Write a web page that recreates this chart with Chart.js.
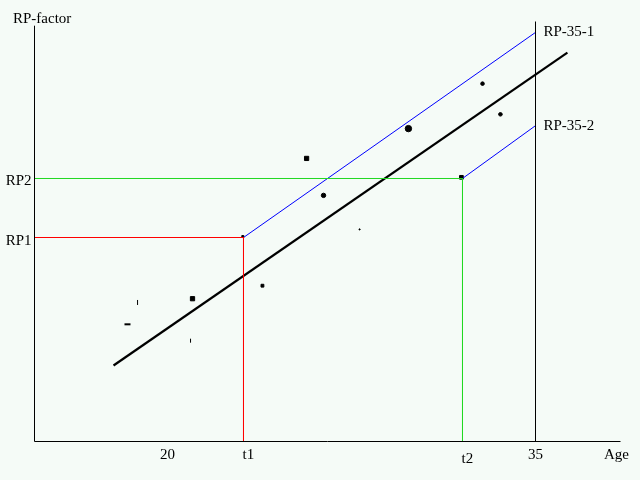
<!DOCTYPE html>
<html lang="en">

<head>
    <meta charset="UTF-8">
    <script src="https://cdn.jsdelivr.net/npm/chart.js"></script>
    <title>RP-factor by Age</title>
    <style>
        body { margin: 0; background: #f5fbf7; }
    </style>
</head>

<body>
    <div style="width: 640px; height: 480px;">
        <canvas id="rpChart" width="640" height="480"></canvas>
    </div>

    <script>
        // axis ranges (age, RP-factor)
        const X_MIN = 14.58;
        const X_MAX = 38.464;
        const Y_MAX = 10;
        const Y_AXIS_TOP = 9.9;

        // key values
        const T1 = 23.098;
        const T2 = 32.024;
        const AGE_35 = 35;
        const RP1 = 4.857;
        const RP2 = 6.262;
        const RP35_1 = 9.74;
        const RP35_2 = 7.52;

        // measured samples
        const sampleAges = [18.78, 18.37, 21.02, 20.94, 23.87, 25.67, 26.36, 27.83, 29.82, 31.98, 32.84, 33.57, 23.07];
        const sampleRP = [3.31, 2.79, 3.40, 2.40, 3.71, 6.74, 5.86, 5.05, 7.45, 6.29, 8.52, 7.79, 4.88];

        // fitted line end points
        const fitAges = [17.8, 36.3];
        const fitRP = [1.81, 9.26];

        // tick labels
        const ageTickValues = [20, T1, T2, AGE_35];
        const ageTickLabels = ['20', 't1', 't2', '35'];
        const rpTickValues = [RP1, RP2];
        const rpTickLabels = ['RP1', 'RP2'];

        // end labels
        const endLabels = ['RP-35-1', 'RP-35-2'];
        const endValues = [RP35_1, RP35_2];

        const pts = (xs, ys) => xs.map((x, i) => ({ x: x, y: ys[i] }));

        const FONT = '15px "Liberation Serif", "DejaVu Serif", serif';

        const bgPlugin = {
            id: 'bg',
            beforeDraw(chart) {
                const c = chart.ctx;
                c.save();
                c.fillStyle = '#f5fbf7';
                c.fillRect(0, 0, chart.width, chart.height);
                c.restore();
            }
        };

        const textPlugin = {
            id: 'texts',
            afterDraw(chart) {
                const c = chart.ctx;
                const xs = chart.scales.x;
                const ys = chart.scales.y;
                const area = chart.chartArea;
                c.save();
                c.font = FONT;
                c.fillStyle = '#000';
                c.textBaseline = 'alphabetic';

                // age ticks: numbers centred, t1/t2 start at their line
                ageTickLabels.forEach((lbl, i) => {
                    const px = xs.getPixelForValue(ageTickValues[i]);
                    const isT = lbl.startsWith('t');
                    c.textAlign = isT ? 'left' : 'center';
                    const base = lbl === 't2' ? area.bottom + 21 : area.bottom + 17;
                    c.fillText(lbl, isT ? px - 1 : px, base);
                });

                // RP ticks
                c.textAlign = 'right';
                rpTickLabels.forEach((lbl, i) => {
                    c.fillText(lbl, area.left - 3, ys.getPixelForValue(rpTickValues[i]) + 7);
                });

                // end labels of the 35 line
                c.textAlign = 'left';
                endLabels.forEach((lbl, i) => {
                    c.fillText(lbl, xs.getPixelForValue(AGE_35) + 8, ys.getPixelForValue(endValues[i]) + 4);
                });

                // axis titles
                c.fillText('RP-factor', 13, 23);
                c.textAlign = 'right';
                c.fillText('Age', 629, area.bottom + 17);
                c.restore();
            }
        };

        const lineSet = (data, color, width) => ({
            data: data,
            showLine: true,
            borderColor: color,
            borderWidth: width,
            pointRadius: 0,
            fill: false,
            clip: false
        });

        const ctx = document.getElementById('rpChart').getContext('2d');
        new Chart(ctx, {
            type: 'scatter',
            data: {
                datasets: [
                    lineSet([{ x: X_MIN, y: 0 }, { x: X_MIN, y: Y_AXIS_TOP }], '#000', 1),
                    lineSet([{ x: X_MIN, y: 0 }, { x: X_MAX, y: 0 }], '#000', 1),
                    lineSet([{ x: AGE_35, y: 0 }, { x: AGE_35, y: Y_MAX }], '#000', 1),
                    lineSet([{ x: X_MIN, y: RP1 }, { x: T1, y: RP1 }, { x: T1, y: 0 }], '#ff0000', 1),
                    lineSet([{ x: X_MIN, y: RP2 }, { x: T2, y: RP2 }, { x: T2, y: 0 }], '#22d822', 1),
                    lineSet([{ x: T1, y: RP1 }, { x: AGE_35, y: RP35_1 }], '#0000ff', 1),
                    lineSet([{ x: T2, y: RP2 }, { x: AGE_35, y: RP35_2 }], '#0000ff', 1),
                    lineSet(pts(fitAges, fitRP), '#000', 2.2),
                    {
                        data: pts(sampleAges, sampleRP),
                        backgroundColor: '#000',
                        borderColor: '#000',
                        borderWidth: [1, 2, 1, 1, 1, 1, 1, 1, 1, 1, 1, 1, 1],
                        pointStyle: ['line', 'line', 'rect', 'line', 'rect', 'rect', 'circle', 'circle', 'circle', 'rect', 'circle', 'circle', 'rect'],
                        rotation: [90, 0, 0, 90, 0, 0, 0, 0, 0, 0, 0, 0, 0],
                        pointRadius: [2.5, 3, 3, 2, 2, 3, 2.2, 0.6, 3.2, 2.6, 1.8, 1.8, 1.4],
                        clip: false
                    }
                ]
            },
            options: {
                responsive: false,
                animation: false,
                events: [],
                layout: {
                    padding: { left: 34.5, right: 19.5, top: 21.5, bottom: 38.5 }
                },
                scales: {
                    x: { type: 'linear', min: X_MIN, max: X_MAX, display: false },
                    y: { type: 'linear', min: 0, max: Y_MAX, display: false }
                },
                plugins: {
                    legend: { display: false },
                    tooltip: { enabled: false }
                }
            },
            plugins: [bgPlugin, textPlugin]
        });
    </script>
</body>

</html>
